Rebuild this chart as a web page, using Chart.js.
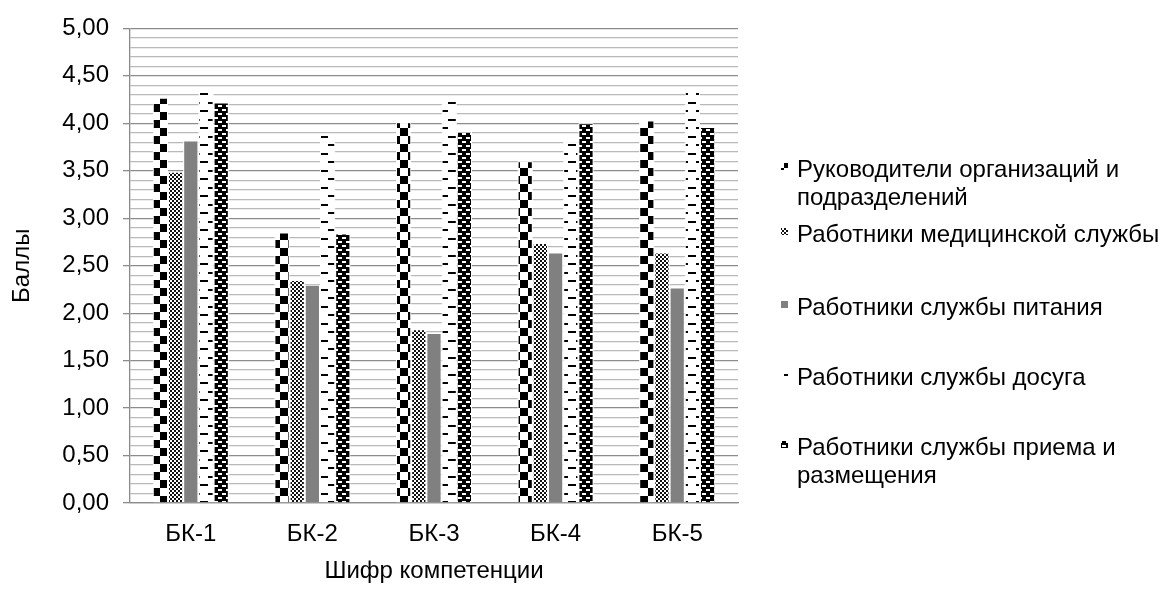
<!DOCTYPE html>
<html lang="ru">
<head>
<meta charset="utf-8">
<title>Баллы по компетенциям</title>
<script src="https://cdn.jsdelivr.net/npm/chart.js@4.4.1/dist/chart.umd.min.js"></script>
<style>
  html, body { margin: 0; padding: 0; background: #ffffff; }
  #wrap { position: relative; width: 1162px; height: 592px; }
</style>
</head>
<body>
<div id="wrap"><canvas id="chart" width="1162" height="592"></canvas></div>
<script>
// Competence codes along the x axis
const categories = ['БК-1', 'БК-2', 'БК-3', 'БК-4', 'БК-5'];

// Average scores per staff group
const managers  = [4.27, 2.85, 4.01, 3.60, 4.03];
const medical   = [3.49, 2.35, 1.83, 2.74, 2.64];
const catering  = [3.82, 2.30, 1.79, 2.64, 2.27];
const leisure   = [4.38, 3.89, 4.24, 3.81, 4.33];
const reception = [4.22, 2.84, 3.91, 4.00, 3.96];

const seriesNames = [
  'Руководители организаций и подразделений',
  'Работники медицинской службы',
  'Работники службы питания',
  'Работники службы досуга',
  'Работники службы приема и размещения'
];
const legendLines = [
  ['Руководители организаций и', 'подразделений'],
  ['Работники медицинской службы'],
  ['Работники службы питания'],
  ['Работники службы досуга'],
  ['Работники службы приема и', 'размещения']
];

const yTitle = 'Баллы';
const xTitle = 'Шифр компетенции';

const FONT = '"Liberation Sans", Arial, sans-serif';
const FONT_SIZE = 24;

// ---- fill patterns ----
function makePattern(w, h, paint) {
  const c = document.createElement('canvas');
  c.width = w; c.height = h;
  const g = c.getContext('2d');
  paint(g, w, h);
  return document.getElementById('chart').getContext('2d').createPattern(c, 'repeat');
}

// large checkerboard
const patChecker = makePattern(16, 16, (g) => {
  g.fillStyle = '#ffffff'; g.fillRect(0, 0, 16, 16);
  g.fillStyle = '#000000';
  g.fillRect(0, 0, 8, 8);
  g.fillRect(8, 8, 8, 8);
});
// fine checkerboard
const patFine = makePattern(4, 4, (g) => {
  g.fillStyle = '#ffffff'; g.fillRect(0, 0, 4, 4);
  g.fillStyle = '#111111';
  g.fillRect(0, 0, 2, 2);
  g.fillRect(2, 2, 2, 2);
});
// solid grey
const solidGrey = '#808080';
// staggered horizontal dashes
const patDash = makePattern(16, 17, (g) => {
  g.fillStyle = '#ffffff'; g.fillRect(0, 0, 16, 17);
  g.fillStyle = '#000000';
  g.fillRect(0, 0, 8, 2);
  g.fillRect(8, 8, 8, 2);
});
// dark with light bricks
const patBrick = makePattern(8, 8, (g) => {
  g.fillStyle = '#000000'; g.fillRect(0, 0, 8, 8);
  g.fillStyle = '#ffffff';
  g.fillRect(2, 1, 4, 2);
  g.fillRect(6, 5, 2, 2);
  g.fillRect(0, 5, 2, 2);
});

const fills = [patChecker, patFine, solidGrey, patDash, patBrick];
const values = [managers, medical, catering, leisure, reception];

// soft white halo around the bars
const haloPlugin = {
  id: 'halo',
  beforeDatasetsDraw(chart) {
    const ctx = chart.ctx;
    ctx.save();
    ctx.shadowColor = 'rgba(255,255,255,1)';
    ctx.shadowBlur = 7;
  },
  afterDatasetsDraw(chart) {
    chart.ctx.restore();
  }
};

// legend at the right side
const legendBaselines = [[177, 205], [242], [315], [385], [455, 483]];
const sideLegend = {
  id: 'sideLegend',
  afterDraw(chart) {
    const ctx = chart.ctx;
    ctx.save();
    ctx.font = FONT_SIZE + 'px ' + FONT;
    ctx.textBaseline = 'alphabetic';
    ctx.textAlign = 'left';
    chart.data.datasets.forEach((ds, i) => {
      const lines = legendLines[i];
      const base = legendBaselines[i];
      ctx.fillStyle = ds.backgroundColor;
      ctx.fillRect(781, base[0] - 14, 7, 7);
      ctx.fillStyle = '#000000';
      lines.forEach((t, k) => ctx.fillText(t, 797, base[k]));
    });
    ctx.restore();
  }
};

const isMajor = (v) => Math.round(v * 10) % 5 === 0;

new Chart(document.getElementById('chart'), {
  type: 'bar',
  data: {
    labels: categories,
    datasets: values.map((arr, i) => ({
      label: seriesNames[i],
      data: arr,
      backgroundColor: fills[i],
      borderColor: '#ffffff',
      borderWidth: 1,
      categoryPercentage: 0.625,
      barPercentage: 1
    }))
  },
  options: {
    responsive: false,
    animation: false,
    layout: { padding: { top: 26, right: 424, left: 0, bottom: 0 } },
    plugins: {
      legend: { display: false },
      tooltip: { enabled: false }
    },
    scales: {
      x: {
        grid: { display: false, drawTicks: false },
        border: { display: true, color: '#8a8a8a', width: 1.3 },
        ticks: { color: '#000000', font: { family: FONT, size: FONT_SIZE }, padding: 17 },
        title: { display: true, text: xTitle, color: '#000000', font: { family: FONT, size: FONT_SIZE }, padding: { top: 0, bottom: 6 } },
        afterFit(scale) { scale.height = 89; }
      },
      y: {
        min: 0,
        max: 5,
        ticks: {
          stepSize: 0.1,
          maxTicksLimit: 100,
          autoSkip: false,
          color: '#000000',
          font: { family: FONT, size: FONT_SIZE },
          padding: 14,
          callback: (v) => isMajor(v) ? v.toFixed(2).replace('.', ',') : ''
        },
        grid: {
          color: (c) => (c.tick && isMajor(c.tick.value)) ? '#8c8c8c' : '#b9b9b9',
          lineWidth: 1.3,
          tickLength: 7,
          tickColor: (c) => (c.tick && isMajor(c.tick.value)) ? '#8c8c8c' : 'rgba(0,0,0,0)'
        },
        border: { display: true, color: '#8a8a8a', width: 1.3 },
        title: { display: true, text: yTitle, color: '#000000', font: { family: FONT, size: FONT_SIZE }, padding: { top: 8, bottom: 0 } },
        afterFit(scale) { scale.width = 130; }
      }
    }
  },
  plugins: [haloPlugin, sideLegend]
});
</script>
</body>
</html>
